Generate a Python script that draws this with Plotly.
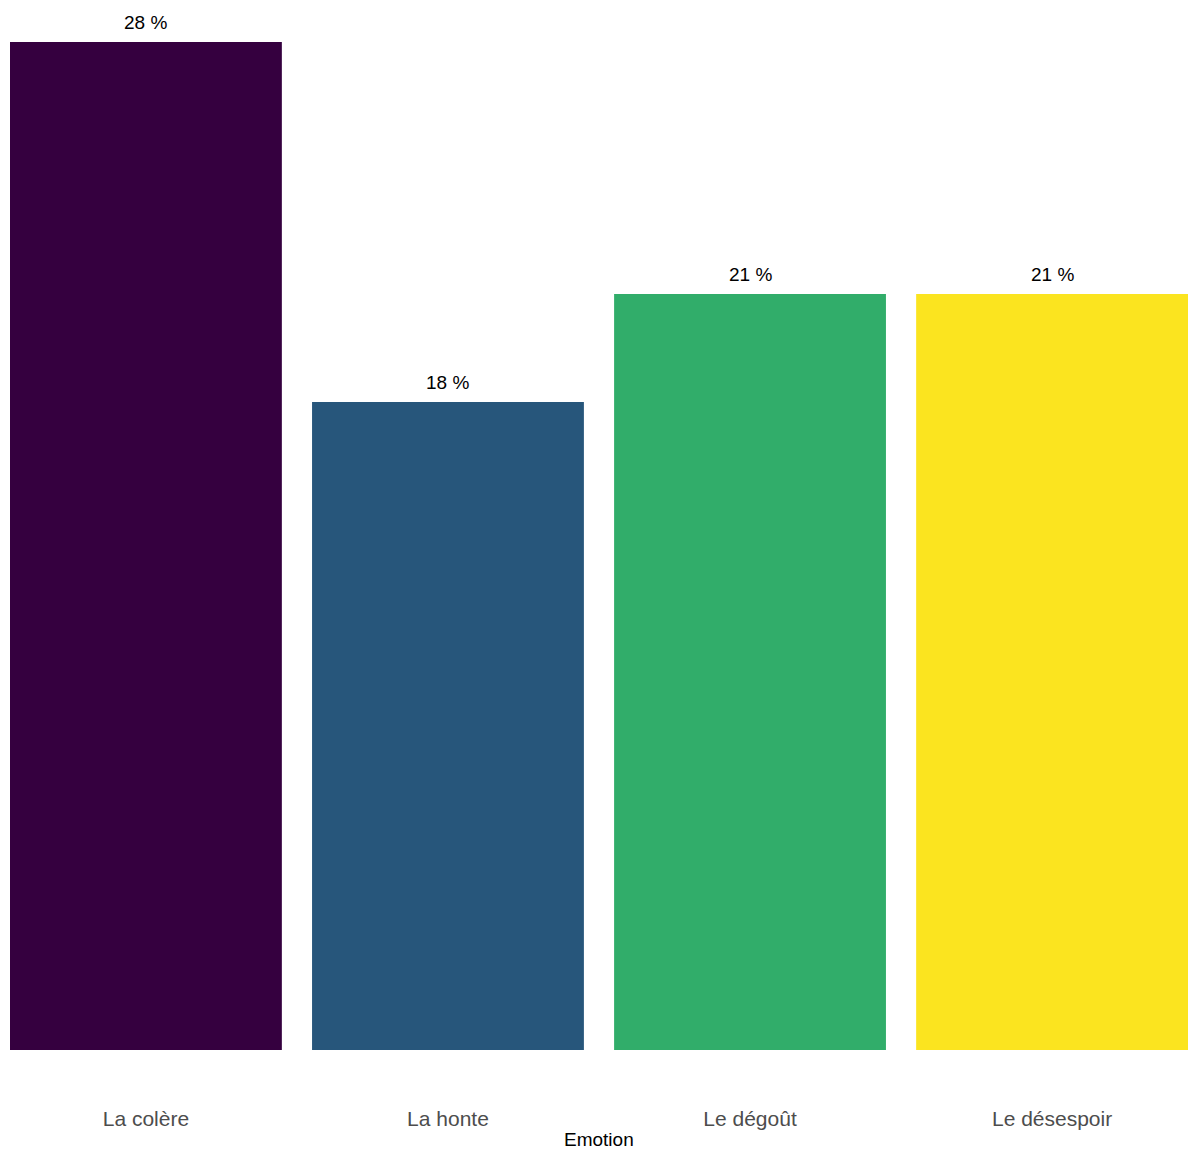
import plotly.graph_objects as go

emotions = ["La colère", "La honte", "Le dégoût", "Le désespoir"]
pourcentages = [28, 18, 21, 21]
couleurs = ["#35003F", "#27567B", "#31AD6A", "#FBE41F"]
etiquettes = [f"{v} %" for v in pourcentages]

fig = go.Figure()
fig.add_trace(go.Bar(
    x=emotions, y=pourcentages,
    marker=dict(color=couleurs, line=dict(width=0)),
    width=0.9, showlegend=False, hoverinfo="x+y",
))

# étiquettes de valeur au-dessus des barres
for e, v, t in zip(emotions, pourcentages, etiquettes):
    fig.add_annotation(x=e, y=v, text=t, showarrow=False,
                       yanchor="bottom", yshift=7,
                       font=dict(size=19, color="black"))

# titre de l'axe x
fig.add_annotation(x=0.5, y=0, xref="paper", yref="paper", text="Emotion",
                   showarrow=False, yanchor="bottom", yshift=-102,
                   font=dict(size=19, color="black"))

fig.update_layout(
    width=1188, height=1149,
    margin=dict(l=10, r=0, t=42, b=99),
    plot_bgcolor="white", paper_bgcolor="white",
    font=dict(family="Liberation Sans, Arial, sans-serif"),
)
fig.update_xaxes(
    range=[-0.45, 3.45], showgrid=False, zeroline=False, showline=False,
    ticks="outside", ticklen=50, tickcolor="rgba(0,0,0,0)",
    tickfont=dict(size=21, color="#4D4D4D"),
)
fig.update_yaxes(
    range=[0, 28], visible=False, showgrid=False, zeroline=False,
)

fig.write_html("out.html", config={"displayModeBar": False},
               post_script="document.body.style.margin='0';document.body.style.overflow='hidden';")
